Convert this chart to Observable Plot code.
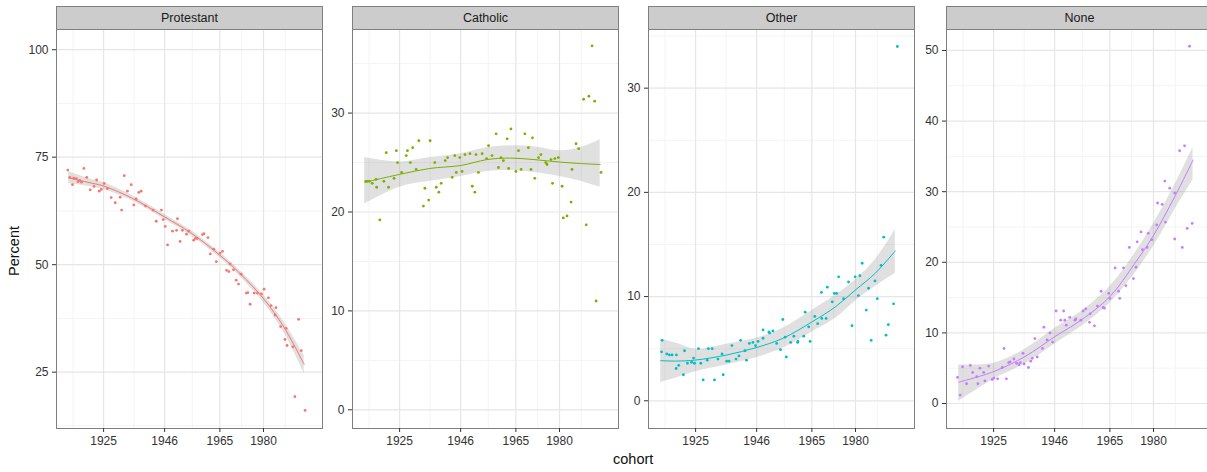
<!DOCTYPE html>
<html>
<head>
<meta charset="utf-8">
<script src="https://cdn.jsdelivr.net/npm/d3@7"></script>
<script src="https://cdn.jsdelivr.net/npm/@observablehq/plot@0.6"></script>
<style>
  body { margin: 0; background: #fff; }
  #root { position: relative; width: 1207px; height: 472px; overflow: hidden; background: #fff;
          font-family: "Liberation Sans", Arial, sans-serif; }
  .strip { position: absolute; top: 6px; height: 24px; box-sizing: border-box; background: #cccccc;
           border: 1px solid #7f7f7f; font-size: 12.5px; color: #1a1a1a; text-align: center; line-height: 22px; }
  .panel { position: absolute; top: 28px; }
  .panel svg { max-width: none !important; }
  .xlab { position: absolute; font-size: 14.5px; color: #111; white-space: nowrap; }
</style>
</head>
<body>
<div id="root"></div>
<script>
// ---- shared x scale (cohort) ----
const xBreaks = [1925, 1946, 1965, 1980];
const xMinor = [1914.5, 1935.5, 1955.5, 1972.5, 1987.5];

// ---- facet names and colours ----
const facetNames = ["Protestant", "Catholic", "Other", "None"];
const facetColors = ["#F8766D", "#7CAE00", "#00BFC4", "#C77CFF"];

// ---- Protestant ----
const protCohort = [1912.7,1913.4,1914.3,1914.7,1915.6,1916.2,1916.8,1917.4,1918.2,1919.2,1920.4,1921.7,1922.6,1923.5,1924.2,1925.2,1926.3,1927.6,1929.0,1930.7,1931.2,1932.1,1933.2,1934.5,1935.4,1936.2,1937.1,1937.9,1939.4,1942.0,1943.1,1944.9,1945.5,1946.2,1947.0,1948.7,1950.1,1950.4,1951.3,1952.1,1953.5,1954.3,1956.0,1956.6,1957.2,1959.0,1959.5,1960.9,1961.7,1962.9,1963.8,1965.1,1965.9,1967.3,1968.1,1968.5,1969.7,1970.6,1971.4,1972.3,1974.1,1974.6,1975.4,1976.8,1977.9,1979.3,1980.2,1981.7,1982.6,1984.0,1984.3,1985.9,1987.8,1987.4,1988.1,1990.1,1992.1,1993.0,1990.8,1994.3];
const protPct = [72.0,70.3,68.6,70.1,70.0,69.3,69.6,69.2,72.4,70.3,67.4,68.2,69.7,67.1,67.5,68.9,67.7,65.6,64.4,65.7,62.7,70.7,67.1,68.6,63.9,65.3,66.8,67.1,63.7,62.7,60.1,62.7,60.5,58.9,54.6,57.8,58.0,60.7,55.4,58.0,57.1,57.8,55.7,56.1,56.1,57.0,57.2,56.3,52.5,53.6,50.7,52.7,53.1,48.7,48.4,50.2,48.8,46.4,45.5,47.8,43.4,43.5,40.8,43.4,43.4,43.2,44.3,42.3,40.5,38.3,40.0,35.6,35.2,32.6,31.2,30.9,37.3,30.0,19.3,16.1];
const protSmoothX = [1913, 1920, 1925, 1935, 1946, 1955, 1965, 1972, 1980, 1987, 1994];
const protFit = [70.2, 69.1, 68.3, 65.4, 61.1, 57.4, 52.2, 47.9, 42.1, 35.5, 26.8];
const protLo = [68.8, 68.2, 67.5, 64.8, 60.5, 56.8, 51.6, 47.2, 41.2, 34.3, 24.7];
const protHi = [71.6, 70.0, 69.1, 66.0, 61.7, 58.0, 52.8, 48.6, 43.0, 36.7, 28.9];
const protDomain = [11.9, 104.7];
const protTicks = [25, 50, 75, 100];
const protMinor = [12.5, 37.5, 62.5, 87.5];

// ---- Catholic ----
const cathCohort = [1913.4,1913.9,1914.6,1915.6,1916.9,1917.1,1918.2,1919.6,1920.4,1921.2,1923.1,1923.9,1924.3,1925.7,1927.3,1927.7,1928.7,1929.5,1930.7,1931.6,1933.2,1933.7,1935.0,1935.5,1937.1,1937.6,1938.5,1939.3,1940.7,1941.5,1943.1,1944.0,1944.5,1945.7,1946.5,1947.5,1949.2,1950.0,1950.9,1951.3,1952.1,1953.4,1954.9,1955.6,1956.8,1958.2,1959.0,1959.9,1960.7,1962.0,1962.5,1963.3,1965.0,1965.9,1966.8,1968.1,1969.3,1970.2,1970.7,1971.5,1972.8,1973.6,1975.3,1975.7,1977.1,1977.6,1978.4,1979.6,1980.9,1981.3,1982.6,1984.0,1984.3,1985.7,1986.6,1988.3,1989.2,1990.1,1991.2,1992.1,1992.6,1994.3];
const cathPct = [23.1,23.1,23.1,22.9,23.3,22.5,19.2,23.1,26.0,22.5,23.4,26.2,25.0,24.0,25.7,26.2,25.0,26.5,24.3,27.2,20.6,22.4,21.2,27.2,25.0,22.5,22.0,22.9,25.2,25.5,23.5,25.7,24.0,25.5,24.1,25.8,25.9,22.6,22.0,25.8,24.0,25.9,25.4,26.7,25.7,27.9,24.5,25.5,25.2,27.4,24.4,28.4,24.1,26.2,24.3,27.9,26.5,24.3,27.5,23.4,25.5,25.8,25.0,24.8,25.3,22.9,25.4,25.5,22.6,19.4,19.6,21.0,24.3,26.9,26.4,31.4,18.7,31.7,36.8,31.2,11.0,24.0];
const cathSmoothX = [1913, 1925, 1935.4, 1946, 1955.1, 1963.1, 1971.2, 1980, 1987.2, 1994];
const cathFit = [23.0, 23.8, 24.4, 24.7, 25.3, 25.45, 25.3, 25.05, 24.9, 24.8];
const cathLo = [20.8, 22.5, 23.1, 23.6, 24.1, 24.2, 24.0, 23.6, 23.1, 22.5];
const cathHi = [25.5, 25.05, 25.5, 25.9, 26.5, 26.7, 26.6, 26.2, 26.5, 27.3];
const cathDomain = [-1.89, 38.45];
const cathTicks = [0, 10, 20, 30];
const cathMinor = [5, 15, 25, 35];

// ---- Other ----
const otherCohort = [1913.5,1913.3,1915.1,1916.0,1916.9,1918.4,1918.3,1919.2,1920.8,1921.2,1922.2,1923.6,1924.3,1924.6,1926.0,1926.8,1927.6,1929.0,1929.4,1930.7,1931.5,1932.7,1934.1,1934.5,1935.7,1936.5,1937.5,1938.9,1939.9,1940.5,1942.0,1942.5,1943.5,1944.7,1945.6,1946.5,1948.2,1948.2,1950.2,1950.5,1951.6,1952.9,1954.2,1955.0,1955.8,1956.2,1957.7,1958.8,1960.1,1960.2,1962.2,1962.7,1963.9,1964.4,1966.0,1967.0,1968.3,1968.4,1969.9,1970.3,1972.0,1972.7,1973.5,1974.2,1975.9,1977.6,1978.8,1979.9,1981.0,1981.5,1982.3,1983.7,1984.5,1985.4,1986.7,1987.5,1988.8,1989.7,1990.5,1991.3,1993.1,1994.4];
const otherPct = [5.8,4.7,4.5,4.4,4.4,4.4,3.1,3.4,2.5,4.8,3.6,3.7,4.1,3.6,5.0,3.6,2.0,3.9,5.0,5.0,2.0,4.0,4.5,2.5,3.8,3.8,5.3,4.0,4.3,5.8,4.8,3.9,5.5,5.6,5.3,5.7,6.0,6.8,6.6,6.5,6.7,5.5,4.9,7.8,6.1,4.2,5.6,6.2,5.6,5.7,6.2,8.5,7.1,5.7,8.1,7.4,10.4,7.9,7.9,10.9,9.5,10.3,10.3,11.9,9.8,11.4,7.2,11.9,10.1,12.0,13.2,8.7,10.8,5.8,11.5,9.8,13.0,15.7,6.3,7.3,9.3,34.0];
const otherSmoothX = [1913, 1918.5, 1925, 1935.6, 1945.8, 1955, 1965.2, 1973.2, 1980, 1986.8, 1993.7];
const otherFit = [3.85, 3.81, 3.91, 4.39, 5.10, 5.99, 7.60, 9.04, 10.64, 12.24, 14.39];
const otherLo = [1.76, 2.21, 2.79, 3.43, 4.13, 5.03, 6.63, 7.92, 9.58, 10.96, 12.24];
const otherHi = [5.93, 5.51, 4.94, 5.42, 5.99, 6.96, 8.72, 10.16, 11.60, 13.53, 16.41];
const otherDomain = [-2.66, 35.63];
const otherTicks = [0, 10, 20, 30];
const otherMinor = [5, 15, 25, 35];

// ---- None ----
const noneCohort = [1912.6,1913.5,1914.3,1915.7,1917.0,1917.8,1919.2,1919.6,1920.3,1921.6,1922.0,1923.3,1924.5,1925.1,1926.4,1928.0,1928.6,1929.4,1930.2,1930.7,1932.0,1932.9,1933.7,1934.2,1935.1,1935.5,1937.0,1937.8,1938.3,1939.2,1940.0,1941.8,1942.3,1943.4,1944.4,1945.3,1946.5,1948.1,1949.1,1949.5,1950.0,1951.2,1953.0,1953.3,1955.0,1955.8,1956.7,1958.0,1958.2,1959.7,1960.7,1962.0,1962.7,1963.1,1965.0,1964.6,1966.8,1968.0,1968.4,1969.7,1970.5,1971.7,1973.1,1974.0,1974.4,1975.7,1976.2,1977.8,1978.2,1979.4,1981.1,1981.4,1983.0,1983.9,1984.1,1985.6,1987.3,1987.3,1989.0,1989.9,1990.7,1991.6,1993.3,1992.4];
const nonePct = [3.7,1.2,5.2,2.8,5.4,4.4,3.8,2.8,5.0,4.4,3.2,5.3,3.4,3.6,3.5,5.1,7.8,3.5,5.8,5.9,6.3,5.7,5.5,5.8,7.1,5.6,5.1,6.0,6.4,9.2,6.6,7.8,10.8,9.0,10.0,8.7,13.1,11.8,13.1,11.8,11.1,12.2,11.8,12.0,11.8,13.1,13.4,11.5,12.7,11.0,13.8,15.9,13.6,13.5,14.9,15.6,19.2,15.9,14.9,19.2,16.7,22.1,17.7,19.3,22.9,24.3,21.8,22.1,24.1,23.2,25.3,28.4,28.2,31.5,25.7,30.5,29.8,23.3,35.8,22.1,36.5,24.8,25.5,50.6];
const noneSmoothX = [1913, 1925.1, 1935.8, 1946.1, 1955.2, 1965, 1973.6, 1980.1, 1987.3, 1993.6];
const noneFit = [3.02, 4.53, 6.65, 9.48, 11.84, 15.14, 19.86, 23.87, 29.29, 34.48];
const noneLo = [0.28, 3.44, 5.61, 8.44, 10.90, 14.20, 18.44, 22.31, 27.41, 31.65];
const noneHi = [5.47, 5.71, 7.69, 10.66, 13.02, 16.56, 21.27, 25.52, 30.94, 36.27];
const noneDomain = [-3.54, 52.97];
const noneTicks = [0, 10, 20, 30, 40, 50];
const noneMinor = [5, 15, 25, 35, 45];

const xDomain = [1908.8, 2000.3];

const panels = [
  {cohort: protCohort, pct: protPct, sx: protSmoothX, fit: protFit, lo: protLo, hi: protHi, domain: protDomain, ticks: protTicks, minor: protMinor},
  {cohort: cathCohort, pct: cathPct, sx: cathSmoothX, fit: cathFit, lo: cathLo, hi: cathHi, domain: cathDomain, ticks: cathTicks, minor: cathMinor},
  {cohort: otherCohort, pct: otherPct, sx: otherSmoothX, fit: otherFit, lo: otherLo, hi: otherHi, domain: otherDomain, ticks: otherTicks, minor: otherMinor},
  {cohort: noneCohort, pct: nonePct, sx: noneSmoothX, fit: noneFit, lo: noneLo, hi: noneHi, domain: noneDomain, ticks: noneTicks, minor: noneMinor}
];

const panelLefts = [56, 352, 648, 946];
const panelW = 266, panelH = 399, mL = 45;

const root = document.getElementById("root");

panels.forEach((p, i) => {
  const pts = p.cohort.map((c, j) => ({cohort: c, pct: p.pct[j]}));
  const sm = p.sx.map((c, j) => ({cohort: c, fit: p.fit[j], lo: p.lo[j], hi: p.hi[j]}));
  const color = facetColors[i];
  const W = mL + panelW + 1, H = panelH + 2 + 30;
  const chart = Plot.plot({
    width: W, height: H,
    marginLeft: mL, marginRight: 1, marginTop: 1, marginBottom: 31,
    x: {domain: xDomain, label: null},
    y: {domain: p.domain, label: null},
    style: {fontFamily: "'Liberation Sans', Arial, sans-serif", fontSize: "12px", color: "#333", background: "transparent", maxWidth: "none"},
    marks: [
      Plot.ruleX(xMinor, {stroke: "#f4f4f4", strokeWidth: 1}),
      Plot.ruleY(p.minor.filter(v => v > p.domain[0] && v < p.domain[1]), {stroke: "#f4f4f4", strokeWidth: 1}),
      Plot.ruleX(xBreaks, {stroke: "#e6e6e6", strokeWidth: 1.2}),
      Plot.ruleY(p.ticks, {stroke: "#e6e6e6", strokeWidth: 1.2}),
      Plot.areaY(sm, {x: "cohort", y1: "lo", y2: "hi", fill: "#999999", fillOpacity: 0.3, curve: "catmull-rom"}),
      Plot.dot(pts, {x: "cohort", y: "pct", r: 1.4, fill: color, stroke: "none"}),
      Plot.line(sm, {x: "cohort", y: "fit", stroke: color, strokeWidth: 1, curve: "catmull-rom"}),
      Plot.frame({stroke: "#7f7f7f"}),
      Plot.axisX({ticks: xBreaks, tickFormat: d => String(d), tickSize: 4, tickPadding: 4, label: null}),
      Plot.axisY({ticks: p.ticks, tickSize: 4, tickPadding: 4, label: null})
    ]
  });
  const wrap = document.createElement("div");
  wrap.className = "panel";
  wrap.style.left = (panelLefts[i] - mL) + "px";
  wrap.style.width = W + "px";
  wrap.style.height = H + "px";
  wrap.appendChild(chart);
  root.appendChild(wrap);

  const strip = document.createElement("div");
  strip.className = "strip";
  strip.style.left = panelLefts[i] + "px";
  strip.style.width = (panelW + 1) + "px";
  strip.textContent = facetNames[i];
  root.appendChild(strip);
});

const xl = document.createElement("div");
xl.className = "xlab";
xl.textContent = "cohort";
xl.style.left = "613px";
xl.style.top = "451px";
root.appendChild(xl);

const yl = document.createElement("div");
yl.className = "xlab";
yl.textContent = "Percent";
yl.style.left = "-11px";
yl.style.top = "243px";
yl.style.transform = "rotate(-90deg)";
root.appendChild(yl);
</script>
</body>
</html>
